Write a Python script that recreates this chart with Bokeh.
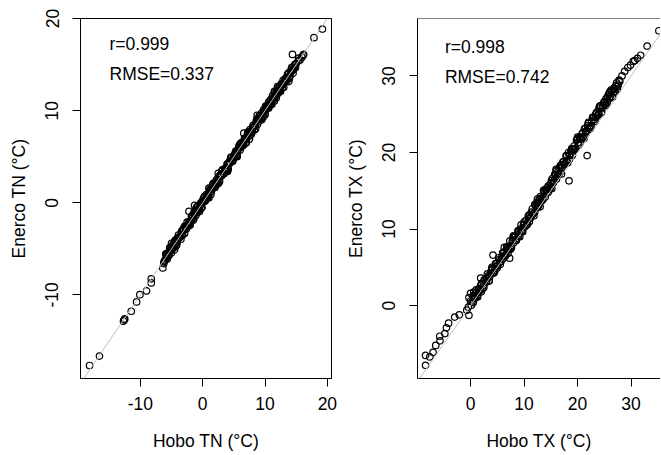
from bokeh.plotting import figure
from bokeh.layouts import row
from bokeh.models import Range1d, Slope, Label, FixedTicker, Span
from bokeh.embed import file_html
from bokeh.resources import INLINE

# ---- data: minimum temperature (TN) ----
hobo_tn = [-18.15, -16.55, -12.7, -12.6, -12.5, -11.46, -10.6, -10.08, -9.0, -8.25, -8.25, -6.4, -6.24,
           -6.2, -6.0, -5.8, -5.6, -5.4, -5.2, -5.0, -4.8, -4.6, -4.4, -4.2, -4.0, -3.8, -3.6, -3.4, -3.2,
           -3.0, -2.8, -2.6, -2.4, -2.2, -2.0, -1.8, -1.6, -1.4, -1.2, -1.0, -0.8, -0.6, -0.4, -0.2, 0.0,
           0.2, 0.4, 0.6, 0.8, 1.0, 1.2, 1.4, 1.6, 1.8, 2.0, 2.2, 2.4, 2.6, 2.8, 3.0, 3.2, 3.4, 3.6, 3.8,
           4.0, 4.2, 4.4, 4.6, 4.8, 5.0, 5.2, 5.4, 5.6, 5.8, 6.0, 6.2, 6.4, 6.6, 6.8, 7.0, 7.2, 7.4, 7.6,
           7.8, 8.0, 8.2, 8.4, 8.6, 8.8, 9.0, 9.2, 9.4, 9.6, 9.8, 10.0, 10.2, 10.4, 10.6, 10.8, 11.0, 11.2,
           11.4, 11.6, 11.8, 12.0, 12.2, 12.4, 12.6, 12.8, 13.0, 13.2, 13.4, 13.6, 13.8, 14.0, 14.2, 14.4,
           14.6, 14.8, 15.0,
           -6.1, -5.9, -5.7, -5.5, -5.3, -5.1, -4.9, -4.7, -4.5, -4.3, -4.1, -3.9, -3.7, -3.5, -3.3, -3.1,
           -2.9, -2.7, -2.5, -2.3, -2.1, -1.9, -1.7, -1.5, -1.3, -1.1, -0.9, -0.7, -0.5, -0.3, -0.1, 0.1,
           0.3, 0.5, 0.7, 0.9, 1.1, 1.3, 1.5, 1.7, 1.9, 2.1, 2.3, 2.5, 2.7, 2.9, 3.1, 3.3, 3.5, 3.7, 3.9,
           4.1, 4.3, 4.5, 4.7, 4.9, 5.1, 5.3, 5.5, 5.7, 5.9, 6.1, 6.3, 6.5, 6.7, 6.9, 7.1, 7.3, 7.5, 7.7,
           7.9, 8.1, 8.3, 8.5, 8.7, 8.9, 9.1, 9.3, 9.5, 9.7, 9.9, 10.1, 10.3, 10.5, 10.7, 10.9, 11.1, 11.3,
           11.5, 11.7, 11.9, 12.1, 12.3, 12.5, 12.7, 12.9, 13.1, 13.3, 13.5, 13.7, 13.9, 14.1, 14.3, 14.5,
           14.7, 14.9,
           -5.9, -5.6, -5.3, -5.0, -4.7, -4.4, -4.1, -3.8, -3.5, -3.2, -2.9, -2.6, -2.3, -2.0, -1.7, -1.4,
           -1.1, -0.8, -0.5, -0.2, 0.1, 0.4, 0.7, 1.0, 1.3, 1.6, 1.9, 2.2, 2.5, 2.8, 3.1, 3.4, 3.7, 4.0,
           4.3, 4.6, 4.9, 5.2, 5.5, 5.8, 6.1, 6.4, 6.7, 7.0, 7.3, 7.6, 7.9, 8.2, 8.5, 8.8, 9.1, 9.4, 9.7,
           10.0, 10.3, 10.6, 10.9, 11.2, 11.5, 11.8, 12.1, 12.4, 12.7, 13.0, 13.3, 13.6, 13.9, 14.2, 14.5,
           14.8,
           -2.2, -1.3, 6.6, 8.75, 13.8, -4.5, -5.0, 2.5, 9.5, 12.0, 7.5, 4.0, 1.0, -1.0, 5.5, 11.5,
           15.3, 15.4, 15.6, 15.9, 16.1, 16.2, 14.4, 17.85, 19.2]
enerco_tn = [-17.66, -16.64, -12.85, -12.7, -12.6, -11.77, -10.76, -9.97, -9.57, -8.7, -8.25, -7.07, -6.6,
             -6.4, -6.2, -5.7, -5.6, -5.7, -5.0, -5.1, -4.6, -4.8, -4.3, -4.6, -3.8, -3.8, -3.7, -3.1, -3.5,
             -2.9, -2.6, -2.8, -2.4, -2.1, -2.3, -1.5, -1.6, -1.7, -1.0, -1.1, -0.4, -0.8, -0.3, -0.6, 0.2,
             0.2, 0.3, 0.9, 0.5, 1.1, 1.4, 1.2, 1.6, 1.9, 1.7, 2.5, 2.4, 2.3, 3.0, 2.9, 3.6, 3.2, 3.7, 3.4,
             4.2, 4.2, 4.3, 4.9, 4.5, 5.1, 5.4, 5.2, 5.6, 6.1, 5.7, 6.5, 6.4, 6.3, 7.0, 6.9, 7.6, 7.2, 7.7,
             7.4, 8.2, 8.2, 8.3, 8.9, 8.5, 9.1, 9.4, 9.2, 9.6, 10.1, 9.7, 10.5, 10.4, 10.3, 11.0, 10.9, 11.6,
             11.2, 11.7, 11.4, 12.2, 12.2, 12.3, 12.9, 12.5, 13.1, 13.4, 13.2, 13.6, 14.1, 13.8, 14.5, 14.4,
             14.5, 15.0, 15.1,
             -6.3, -5.6, -6.1, -5.4, -4.9, -5.2, -4.9, -4.9, -4.2, -4.7, -4.0, -3.5, -3.8, -3.5, -3.5, -2.8,
             -3.3, -2.6, -2.1, -2.4, -2.1, -2.1, -1.4, -1.9, -1.2, -0.7, -1.0, -0.7, -0.7, 0.0, -0.5, 0.2,
             0.7, 0.4, 0.7, 0.7, 1.4, 0.9, 1.6, 2.1, 1.8, 2.1, 2.1, 2.8, 2.3, 3.0, 3.5, 3.2, 3.5, 3.5, 4.2,
             3.7, 4.4, 4.9, 4.6, 4.9, 4.9, 5.6, 5.1, 5.8, 6.3, 6.0, 6.3, 6.3, 7.0, 6.5, 7.2, 7.7, 7.4, 7.7,
             7.7, 8.4, 7.9, 8.6, 9.1, 8.8, 9.1, 9.1, 9.8, 9.3, 10.0, 10.5, 10.2, 10.5, 10.5, 11.2, 10.7, 11.4,
             11.9, 11.6, 11.9, 11.9, 12.6, 12.1, 12.8, 13.3, 13.0, 13.3, 13.3, 14.0, 13.5, 14.2, 14.7, 14.4,
             14.7, 14.7,
             -5.55, -5.85, -5.25, -5.45, -4.5, -4.05, -4.35, -3.75, -3.95, -3.0, -2.55, -2.85, -2.25, -2.45,
             -1.5, -1.05, -1.35, -0.75, -0.95, 0.0, 0.45, 0.15, 0.75, 0.55, 1.5, 1.95, 1.65, 2.25, 2.05, 3.0,
             3.45, 3.15, 3.75, 3.55, 4.5, 4.95, 4.65, 5.25, 5.05, 6.0, 6.45, 6.15, 6.75, 6.55, 7.5, 7.95,
             7.65, 8.25, 8.05, 9.0, 9.45, 9.15, 9.75, 9.55, 10.5, 10.95, 10.65, 11.25, 11.05, 12.0, 12.45,
             12.15, 12.75, 12.55, 13.5, 13.95, 13.65, 14.25, 14.05, 15.0,
             -0.93, -0.28, 7.55, 9.5, 13.15, -5.1, -4.4, 3.2, 9.0, 12.6, 6.9, 3.4, 1.6, -0.5, 5.0, 12.1,
             15.4, 15.7, 15.5, 15.8, 16.0, 16.1, 16.1, 17.92, 18.85]

# ---- data: maximum temperature (TX) ----
hobo_tx = [-8.4, -8.4, -7.6, -7.0, -6.5, -5.7, -5.75, -4.8, -4.5, -4.1, -2.95, -2.1, -0.3, -0.7, -0.4,
           -0.3, 0.0, 0.6, 1.9, 4.2, 7.3, 6.3, 18.4, 21.8,
           0.0, 0.3, 0.6, 0.9, 1.2, 1.5, 1.8, 2.1, 2.4, 2.7, 3.0, 3.3, 3.6, 3.9, 4.2, 4.5, 4.8, 5.1, 5.4,
           5.7, 6.0, 6.3, 6.6, 6.9, 7.2, 7.5, 7.8, 8.1, 8.4, 8.7, 9.0, 9.3, 9.6, 9.9, 10.2, 10.5, 10.8,
           11.1, 11.4, 11.7, 12.0, 12.3, 12.6, 12.9, 13.2, 13.5, 13.8, 14.1, 14.4, 14.7, 15.0, 15.3, 15.6,
           15.9, 16.2, 16.5, 16.8, 17.1, 17.4, 17.7, 18.0, 18.3, 18.6, 18.9, 19.2, 19.5, 19.8, 20.1, 20.4,
           20.7, 21.0, 21.3, 21.6, 21.9, 22.2, 22.5, 22.8, 23.1, 23.4, 23.7, 24.0, 24.3, 24.6, 24.9, 25.2,
           25.5, 25.8, 26.1, 26.4, 26.7, 27.0, 27.3, 27.6, 27.9,
           0.15, 0.45, 0.75, 1.05, 1.35, 1.65, 1.95, 2.25, 2.55, 2.85, 3.15, 3.45, 3.75, 4.05, 4.35, 4.65,
           4.95, 5.25, 5.55, 5.85, 6.15, 6.45, 6.75, 7.05, 7.35, 7.65, 7.95, 8.25, 8.55, 8.85, 9.15, 9.45,
           9.75, 10.05, 10.35, 10.65, 10.95, 11.25, 11.55, 11.85, 12.15, 12.45, 12.75, 13.05, 13.35, 13.65,
           13.95, 14.25, 14.55, 14.85, 15.15, 15.45, 15.75, 16.05, 16.35, 16.65, 16.95, 17.25, 17.55, 17.85,
           18.15, 18.45, 18.75, 19.05, 19.35, 19.65, 19.95, 20.25, 20.55, 20.85, 21.15, 21.45, 21.75, 22.05,
           22.35, 22.65, 22.95, 23.25, 23.55, 23.85, 24.15, 24.45, 24.75, 25.05, 25.35, 25.65, 25.95, 26.25,
           26.55, 26.85, 27.15, 27.45, 27.75,
           0.5, 1.0, 1.5, 2.0, 2.5, 3.0, 3.5, 4.0, 4.5, 5.0, 5.5, 6.0, 6.5, 7.0, 7.5, 8.0, 8.5, 9.0, 9.5,
           10.0, 10.5, 11.0, 11.5, 12.0, 12.5, 13.0, 13.5, 14.0, 14.5, 15.0, 15.5, 16.0, 16.5, 17.0, 17.5,
           18.0, 18.5, 19.0, 19.5, 20.0, 20.5, 21.0, 21.5, 22.0, 22.5, 23.0, 23.5, 24.0, 24.5, 25.0, 25.5,
           26.0, 26.5,
           3.5, 5.0, 7.0, 9.2, 11.0, 13.0, 15.2, 17.0, 19.0, 21.2, 2.0, 4.0, 8.0, 12.5, 16.0, 20.0,
           28.3, 28.8, 29.4, 29.9, 30.4, 30.7, 31.2, 31.8, 33.0, 35.2, 27.4, 26.8, 26.0, 25.3]
enerco_tx = [-7.8, -6.5, -6.7, -6.1, -5.2, -4.6, -4.0, -3.65, -2.9, -2.3, -1.5, -1.2, -1.27, -0.6, -0.2,
             1.05, 1.6, 1.75, 3.6, 6.6, 6.2, 7.6, 16.3, 19.6,
             0.6, 0.5, 1.3, 1.0, 1.3, 2.2, 2.0, 2.9, 2.6, 3.3, 3.1, 3.9, 3.8, 4.6, 4.3, 4.6, 5.5, 5.2, 6.0,
             5.8, 6.1, 7.0, 6.7, 7.5, 7.3, 7.4, 8.4, 8.2, 9.0, 8.8, 9.1, 10.0, 9.7, 10.5, 10.3, 10.6, 11.7,
             11.4, 12.2, 12.0, 12.2, 13.3, 13.0, 13.8, 13.6, 13.8, 14.9, 14.6, 15.4, 15.2, 15.5, 16.6, 16.3,
             17.1, 16.9, 17.2, 18.3, 18.0, 18.8, 18.6, 18.9, 20.0, 19.7, 20.5, 20.3, 20.5, 21.6, 21.3, 22.0,
             21.8, 22.0, 23.1, 22.8, 23.5, 23.3, 23.5, 24.6, 24.3, 25.0, 24.8, 25.0, 26.1, 25.8, 26.5, 26.3,
             26.5, 27.6, 27.3, 28.0, 27.8, 28.0, 29.1, 28.8, 29.3,
             0.05, 1.25, 0.95, 2.05, 1.15, 2.15, 2.65, 2.15, 3.35, 3.05, 4.15, 3.25, 4.25, 4.75, 4.25, 5.45,
             5.15, 6.25, 5.35, 6.35, 6.95, 6.45, 7.65, 7.35, 8.45, 7.55, 8.55, 9.05, 8.55, 9.75, 9.45, 10.55,
             9.65, 10.65, 11.15, 10.65, 11.85, 11.55, 12.65, 11.75, 13.05, 13.55, 13.05, 14.25, 13.95, 15.05,
             14.15, 15.15, 15.65, 15.15, 16.35, 16.05, 17.15, 16.55, 17.55, 18.05, 17.55, 18.75, 18.45, 19.55,
             18.65, 19.65, 20.15, 19.65, 20.85, 20.55, 21.65, 20.95, 21.95, 22.45, 21.95, 23.15, 22.85, 23.95,
             23.05, 24.05, 24.55, 24.05, 25.25, 24.95, 26.05, 25.15, 26.15, 26.65, 26.15, 27.35, 27.05, 28.15,
             27.25, 28.25, 28.75, 28.25, 29.45,
             0.4, 1.6, 1.7, 2.8, 2.4, 3.6, 3.7, 4.8, 4.4, 5.6, 5.7, 6.9, 6.5, 7.7, 7.8, 8.9, 8.5, 9.7, 9.8,
             10.9, 10.5, 11.7, 11.8, 13.2, 12.8, 14.0, 14.1, 15.2, 14.8, 16.0, 16.1, 17.6, 17.1, 18.4, 18.4,
             19.6, 19.1, 20.4, 20.4, 21.8, 21.3, 22.6, 22.6, 23.8, 23.3, 24.6, 24.6, 25.8, 25.3, 26.6, 26.6,
             27.8, 27.3,
             3.2, 4.9, 6.8, 9.0, 11.0, 12.9, 15.3, 17.2, 19.6, 21.8, 1.8, 5.0, 9.1, 13.9, 17.8, 22.0,
             30.0, 30.6, 31.1, 31.4, 31.9, 32.0, 32.3, 32.7, 33.9, 35.9, 28.6, 28.4, 27.9, 27.0]

# ---- annotations ----
stats_tn = ["r=0.999", "RMSE=0.337"]
stats_tx = ["r=0.998", "RMSE=0.742"]
ticks_tn = [-10, 0, 10, 20]
ticks_tx = [0, 10, 20, 30]

FONT = "Liberation Sans"
FS = "17.5px"


def style(p, ticks, xlabel, ylabel):
    for ax in (p.xaxis[0], p.yaxis[0]):
        ax.ticker = FixedTicker(ticks=ticks)
        ax.major_label_overrides = {t: str(t) for t in ticks}
        ax.minor_tick_line_color = None
        ax.major_tick_in = 0
        ax.major_tick_out = 8
        ax.major_tick_line_color = "black"
        ax.axis_line_color = "black"
        ax.major_label_text_font = FONT
        ax.major_label_text_font_size = FS
        ax.major_label_text_color = "black"
        ax.axis_label_text_font = FONT
        ax.axis_label_text_font_size = FS
        ax.axis_label_text_font_style = "normal"
        ax.axis_label_text_color = "black"
    p.xaxis.axis_label = xlabel
    p.yaxis.axis_label = ylabel
    p.xaxis.major_label_standoff = 10
    p.xaxis.axis_label_standoff = 18
    p.yaxis.major_label_standoff = 14
    p.yaxis.axis_label_standoff = 14
    p.yaxis.major_label_orientation = "vertical"
    p.xgrid.grid_line_color = None
    p.ygrid.grid_line_color = None
    p.background_fill_color = "white"
    p.border_fill_color = "white"


def stat_label(p, x, y, txt):
    p.add_layout(Label(x=x, y=y, text=txt, text_font=FONT, text_font_size=FS,
                       text_color="black", text_baseline="middle", text_align="left"))


# left panel
p1 = figure(width=341, height=453, output_backend="svg", toolbar_location=None,
            x_range=Range1d(-19.6, 20.66), y_range=Range1d(-19.07, 20.0),
            min_border_left=80, min_border_right=10, min_border_top=18, min_border_bottom=72)
style(p1, ticks_tn, "Hobo TN (°C)", "Enerco TN (°C)")
p1.outline_line_color = "black"
p1.outline_line_width = 1
p1.scatter(hobo_tn, enerco_tn, size=6.5, fill_color=None, line_color="black", line_width=1.2)
p1.add_layout(Slope(gradient=1, y_intercept=0, line_color="#BEBEBE", line_width=1))
stat_label(p1, -14.95, 17.2, stats_tn[0])
stat_label(p1, -14.95, 13.94, stats_tn[1])

# right panel
p2 = figure(width=319, height=453, output_backend="svg", toolbar_location=None,
            x_range=Range1d(-9.91, 35.5), y_range=Range1d(-9.52, 37.5),
            min_border_left=76, min_border_right=0, min_border_top=18, min_border_bottom=72)
style(p2, ticks_tx, "Hobo TX (°C)", "Enerco TX (°C)")
p2.outline_line_color = None
p2.scatter(hobo_tx, enerco_tx, size=6.5, fill_color=None, line_color="black", line_width=1.2)
p2.add_layout(Slope(gradient=1, y_intercept=0, line_color="#BEBEBE", line_width=1))
p2.add_layout(Span(location=37.5, dimension="width", line_color="black", line_width=1))
stat_label(p2, -4.79, 33.8, stats_tx[0])
stat_label(p2, -4.79, 29.9, stats_tx[1])

layout = row(p1, p2)
open("out.html", "w").write(file_html(layout, INLINE))
